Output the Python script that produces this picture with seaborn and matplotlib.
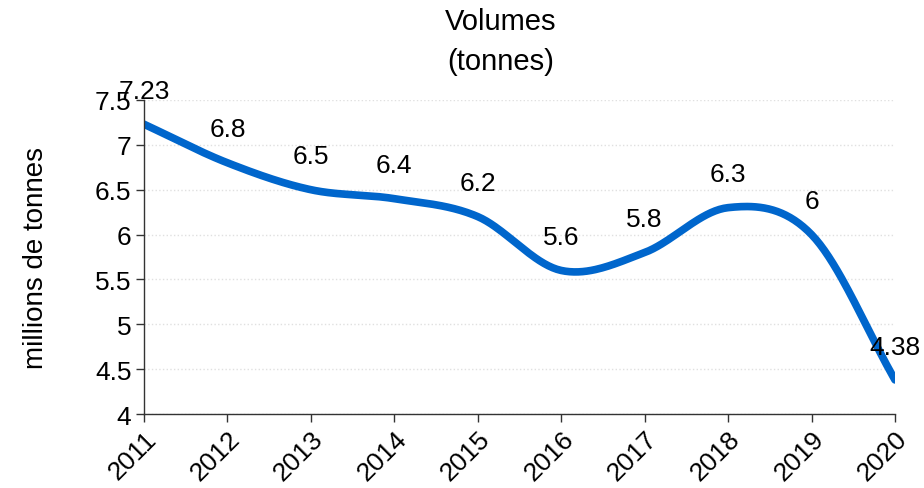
import numpy as np
import pandas as pd
import matplotlib
matplotlib.use("Agg")
import matplotlib.pyplot as plt
import seaborn as sns

years = [2011, 2012, 2013, 2014, 2015, 2016, 2017, 2018, 2019, 2020]
volumes = [7.23, 6.8, 6.5, 6.4, 6.2, 5.6, 5.8, 6.3, 6.0, 4.38]
labels = ["7.23", "6.8", "6.5", "6.4", "6.2", "5.6", "5.8", "6.3", "6", "4.38"]

sns.set_style("white")
plt.rcParams['font.family'] = ['Liberation Sans', 'DejaVu Sans']
plt.rcParams['text.color'] = 'black'
plt.rcParams['xtick.color'] = 'black'
plt.rcParams['ytick.color'] = 'black'
plt.rcParams['axes.labelcolor'] = 'black'


# smooth curve like Excel (Catmull-Rom through the data points)
def smooth(x, y, n=40):
    x = np.asarray(x, float)
    y = np.asarray(y, float)
    px = np.concatenate([[2 * x[0] - x[1]], x, [2 * x[-1] - x[-2]]])
    py = np.concatenate([[2 * y[0] - y[1]], y, [2 * y[-1] - y[-2]]])
    xs, ys = [], []
    for i in range(1, len(px) - 2):
        t = np.linspace(0, 1, n)
        for arr, out in ((px, xs), (py, ys)):
            p0, p1, p2, p3 = arr[i - 1], arr[i], arr[i + 1], arr[i + 2]
            out.extend(0.5 * ((2 * p1) + (-p0 + p2) * t
                              + (2 * p0 - 5 * p1 + 4 * p2 - p3) * t ** 2
                              + (-p0 + 3 * p1 - 3 * p2 + p3) * t ** 3))
    return np.array(xs), np.array(ys)


sx, sy = smooth(years, volumes)
curve = pd.DataFrame({'year': sx, 'volume': sy})

fig = plt.figure(figsize=(9.24, 4.89), dpi=100)
ax = fig.add_axes([0.1558, 0.1513, 0.8128, 0.6422])

sns.lineplot(x='year', y='volume', data=curve, ax=ax, color='#0066CC',
             linewidth=5.5, sort=False, solid_capstyle='round')

for x, y, lab in zip(years, volumes, labels):
    ax.annotate(lab, (x, y), xytext=(0, 24), textcoords='offset points',
                ha='center', va='center', fontsize=19, color='black',
                annotation_clip=False)

ax.set_xlim(2011, 2020)
ax.set_ylim(4, 7.5)
ax.set_xticks(years)
ax.set_xticklabels([str(y) for y in years], rotation=45, ha='right',
                   rotation_mode='anchor', fontsize=19)
ax.set_yticks(np.arange(4, 7.51, 0.5))
ax.set_yticklabels(['4', '4.5', '5', '5.5', '6', '6.5', '7', '7.5'], fontsize=19)
ax.tick_params(axis='both', direction='out', length=6, width=1, color='#333333',
               bottom=True, left=True, pad=3)
ax.grid(axis='y', color='#e0e0e0', linestyle=':', linewidth=1)
for s in ['top', 'right']:
    ax.spines[s].set_visible(False)
for s in ['left', 'bottom']:
    ax.spines[s].set_color('#333333')
    ax.spines[s].set_linewidth(1)

ax.set_xlabel('')
ax.set_ylabel('millions de tonnes', fontsize=20, labelpad=33)

fig.text(0.542, 0.955, 'Volumes', ha='center', va='center', fontsize=21)
fig.text(0.542, 0.873, '(tonnes)', ha='center', va='center', fontsize=21)

plt.savefig('out.png', dpi=100)
